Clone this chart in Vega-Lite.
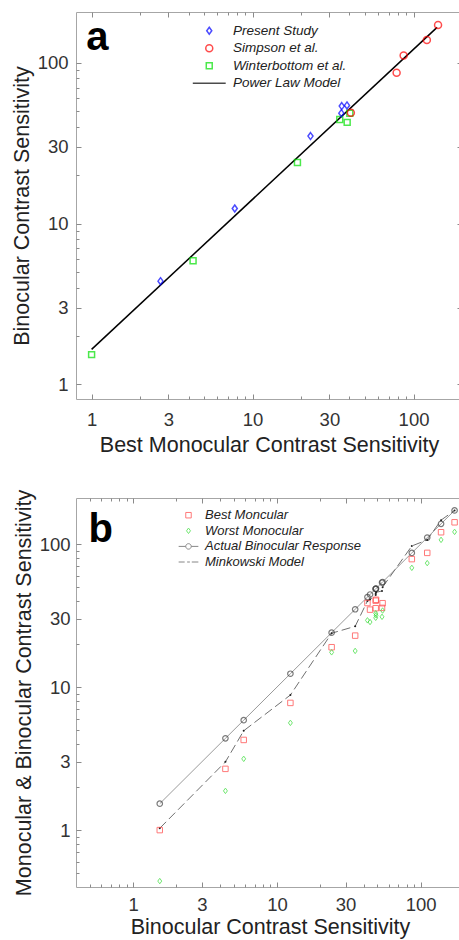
{
  "$schema": "https://vega.github.io/schema/vega-lite/v6.json",
  "padding": {"left": 10, "top": 11, "right": 0, "bottom": 0},
  "background": "white",
  "spacing": 32,
  "datasets": {
    "subjects": [
      {"id": 1, "source": "Winterbottom et al.", "best": 1.0, "bin": 1.53, "worst": 0.44, "mink": 1.03},
      {"id": 2, "source": "Present Study", "best": 2.68, "bin": 4.38, "worst": 1.88, "mink": 3.0},
      {"id": 3, "source": "Winterbottom et al.", "best": 4.27, "bin": 5.87, "worst": 3.15, "mink": 4.95},
      {"id": 4, "source": "Present Study", "best": 7.75, "bin": 12.4, "worst": 5.62, "mink": 8.8},
      {"id": 5, "source": "Winterbottom et al.", "best": 19.0, "bin": 24.0, "worst": 17.5, "mink": 23.8},
      {"id": 6, "source": "Present Study", "best": 22.9, "bin": 35.0, "worst": 17.9, "mink": 26.6},
      {"id": 7, "source": "Winterbottom et al.", "best": 38.7, "bin": 42.6, "worst": 29.3, "mink": 40},
      {"id": 8, "source": "Winterbottom et al.", "best": 34.8, "bin": 44.4, "worst": 28.5, "mink": 41},
      {"id": 9, "source": "Present Study", "best": 35.6, "bin": 48.6, "worst": 32.8, "mink": 44},
      {"id": 10, "source": "Winterbottom et al.", "best": 40.2, "bin": 48.6, "worst": 30.5, "mink": 45},
      {"id": 11, "source": "Simpson et al.", "best": 40.8, "bin": 48.9, "worst": 31.8, "mink": 46},
      {"id": 12, "source": "Present Study", "best": 35.8, "bin": 53.8, "worst": 31.0, "mink": 47},
      {"id": 13, "source": "Present Study", "best": 38.6, "bin": 54.3, "worst": 34.3, "mink": 50},
      {"id": 14, "source": "Simpson et al.", "best": 78.5, "bin": 86.7, "worst": 68.2, "mink": 97},
      {"id": 15, "source": "Simpson et al.", "best": 86.8, "bin": 111, "worst": 73.6, "mink": 107},
      {"id": 16, "source": "Simpson et al.", "best": 121, "bin": 138.5, "worst": 107, "mink": 147},
      {"id": 17, "source": "Simpson et al.", "best": 142, "bin": 172, "worst": 121.7, "mink": 172}
    ],
    "powerlaw": [
      {"model": "Power Law Model", "bx": 1, "by": 1.65},
      {"model": "Power Law Model", "bx": 140, "by": 166}
    ]
  },
  "config": {
    "view": {"stroke": "#a6a6a6", "strokeWidth": 1},
    "axis": {
      "grid": false, "domain": false, "tickColor": "#8a8a8a", "tickWidth": 1,
      "labelFont": "Liberation Sans", "labelFontSize": 18.5, "labelColor": "#333333",
      "titleFont": "Liberation Sans", "titleFontSize": 21.5, "titleFontWeight": "normal", "titleColor": "#222222",
      "labelFlush": false, "labelOverlap": false, "labelBound": false
    },
    "legend": {
      "labelFont": "Liberation Sans", "labelFontStyle": "italic", "labelColor": "#222222", "padding": 0
    }
  },
  "resolve": {"scale": {"color": "independent", "shape": "independent"}, "legend": {"color": "independent", "shape": "independent"}},
  "vconcat": [
    {
      "width": 386, "height": 387,
      "resolve": {"axis": {"x": "independent", "y": "independent"}},
      "layer": [
        {
          "data": {"name": "powerlaw"},
          "mark": {"type": "line", "color": "#000000", "strokeWidth": 1.5},
          "encoding": {
            "x": {"field": "bx", "type": "quantitative",
              "scale": {"type": "log", "domain": [0.8, 200], "nice": false},
              "axis": {"orient": "bottom", "title": "Best Monocular Contrast Sensitivity",
                "values": [1,2,3,4,5,6,7,8,9,10,20,30,40,50,60,70,80,90,100],
                "labelExpr": "indexof([1,3,10,30,100], datum.value) >= 0 ? '' + datum.value : ''",
                "tickSize": {"condition": {"test": "indexof([1,3,10,30,100], datum.value) >= 0", "value": -5}, "value": -3},
                "labelPadding": 16.5, "titlePadding": 3}},
            "y": {"field": "by", "type": "quantitative",
              "scale": {"type": "log", "domain": [0.81, 207], "nice": false},
              "axis": {"orient": "left", "title": "Binocular Contrast Sensitivity",
                "values": [1,2,3,4,5,6,7,8,9,10,20,30,40,50,60,70,80,90,100],
                "labelExpr": "indexof([1,3,10,30,100], datum.value) >= 0 ? '' + datum.value : ''",
                "tickSize": {"condition": {"test": "indexof([1,3,10,30,100], datum.value) >= 0", "value": -5}, "value": -3},
                "labelPadding": 13, "titlePadding": 4}}
          }
        },
        {
          "data": {"name": "subjects"},
          "mark": {"type": "point", "filled": false, "strokeWidth": 1.5, "size": 49},
          "encoding": {
            "x": {"field": "best", "type": "quantitative",
              "axis": {"orient": "top", "title": null, "labels": false, "minExtent": 0, "maxExtent": 0,
                "values": [1,2,3,4,5,6,7,8,9,10,20,30,40,50,60,70,80,90,100],
                "tickSize": {"condition": {"test": "indexof([1,3,10,30,100], datum.value) >= 0", "value": -5}, "value": -3}}},
            "y": {"field": "bin", "type": "quantitative",
              "axis": {"orient": "right", "title": null, "labels": false, "minExtent": 0, "maxExtent": 0,
                "values": [1,2,3,4,5,6,7,8,9,10,20,30,40,50,60,70,80,90,100,200],
                "tickSize": {"condition": {"test": "indexof([1,3,10,30,100], datum.value) >= 0", "value": -5}, "value": -3}}},
            "color": {"field": "source", "type": "nominal",
              "scale": {"domain": ["Present Study", "Simpson et al.", "Winterbottom et al.", "Power Law Model"],
                        "range": ["#0000ff", "#ff0000", "#00e000", "#000000"]},
              "legend": {"orient": "none", "legendX": 126.5, "legendY": 12, "title": null,
                "labelFontSize": 13.5, "symbolSize": 49, "symbolStrokeWidth": 1.5, "labelOffset": 17, "rowPadding": 2.5}},
            "shape": {"field": "source", "type": "nominal",
              "scale": {"domain": ["Present Study", "Simpson et al.", "Winterbottom et al.", "Power Law Model"],
                        "range": ["M0,-1L0.72,0L0,1L-0.72,0Z", "circle", "M-0.85,-0.85L0.85,-0.85L0.85,0.85L-0.85,0.85Z", "M-4.7,0L4.7,0"]}}
          }
        },
        {
          "data": {"values": [{}]},
          "mark": {"type": "text", "text": "a", "font": "Liberation Sans", "fontWeight": "bold", "fontSize": 40, "align": "left", "baseline": "alphabetic", "color": "#000000"},
          "encoding": {
            "x": {"datum": 0.927, "type": "quantitative", "axis": null},
            "y": {"datum": 120, "type": "quantitative", "axis": null}
          }
        }
      ]
    },
    {
      "width": 388, "height": 389,
      "data": {"name": "subjects"},
      "resolve": {"axis": {"x": "independent", "y": "independent"}},
      "layer": [
        {
          "mark": {"type": "line", "color": "#9a9a9a", "strokeWidth": 1},
          "encoding": {
            "x": {"field": "bin", "type": "quantitative",
              "scale": {"type": "log", "domain": [0.4, 200], "nice": false},
              "axis": {"orient": "bottom", "title": "Binocular Contrast Sensitivity",
                "values": [0.5,0.6,0.7,0.8,0.9,1,2,3,4,5,6,7,8,9,10,20,30,40,50,60,70,80,90,100],
                "labelExpr": "indexof([1,3,10,30,100], datum.value) >= 0 ? '' + datum.value : ''",
                "tickSize": {"condition": {"test": "indexof([1,3,10,30,100], datum.value) >= 0", "value": -5}, "value": -3},
                "labelPadding": 13, "titlePadding": 1}},
            "y": {"field": "bin", "type": "quantitative",
              "scale": {"type": "log", "domain": [0.4, 210], "nice": false},
              "axis": {"orient": "left", "title": "Monocular & Binocular Contrast Sensitivity",
                "values": [0.5,0.6,0.7,0.8,0.9,1,2,3,4,5,6,7,8,9,10,20,30,40,50,60,70,80,90,100],
                "labelExpr": "indexof([1,3,10,30,100], datum.value) >= 0 ? '' + datum.value : ''",
                "tickSize": {"condition": {"test": "indexof([1,3,10,30,100], datum.value) >= 0", "value": -5}, "value": -3},
                "labelPadding": 11, "titlePadding": 4}}
          }
        },
        {
          "mark": {"type": "line", "color": "#707070", "strokeWidth": 1, "strokeDash": [9, 4]},
          "encoding": {
            "x": {"field": "bin", "type": "quantitative",
              "axis": {"orient": "top", "title": null, "labels": false, "minExtent": 0, "maxExtent": 0,
                "values": [0.5,0.6,0.7,0.8,0.9,1,2,3,4,5,6,7,8,9,10,20,30,40,50,60,70,80,90,100],
                "tickSize": {"condition": {"test": "indexof([1,3,10,30,100], datum.value) >= 0", "value": -5}, "value": -3}}},
            "y": {"field": "mink", "type": "quantitative",
              "axis": {"orient": "right", "title": null, "labels": false, "minExtent": 0, "maxExtent": 0,
                "values": [0.5,0.6,0.7,0.8,0.9,1,2,3,4,5,6,7,8,9,10,20,30,40,50,60,70,80,90,100,200],
                "tickSize": {"condition": {"test": "indexof([1,3,10,30,100], datum.value) >= 0", "value": -5}, "value": -3}}}
          }
        },
        {
          "mark": {"type": "point", "shape": "circle", "filled": false, "size": 30, "strokeWidth": 1.2, "color": "#444444"},
          "encoding": {
            "x": {"field": "bin", "type": "quantitative", "axis": null},
            "y": {"field": "bin", "type": "quantitative", "axis": null}
          }
        },
        {
          "mark": {"type": "point", "shape": "circle", "filled": true, "size": 4, "color": "#222222", "opacity": 1},
          "encoding": {
            "x": {"field": "bin", "type": "quantitative", "axis": null},
            "y": {"field": "mink", "type": "quantitative", "axis": null}
          }
        },
        {
          "transform": [{"fold": ["best", "worst"], "as": ["series", "val"]}],
          "mark": {"type": "point", "filled": false, "size": 30, "strokeWidth": 1},
          "encoding": {
            "x": {"field": "bin", "type": "quantitative", "axis": null},
            "y": {"field": "val", "type": "quantitative", "axis": null},
            "color": {"field": "series", "type": "nominal",
              "scale": {"domain": ["best", "worst", "bin", "mink"], "range": ["#ff4040", "#33dd33", "#555555", "#555555"]},
              "legend": {"orient": "none", "legendX": 106, "legendY": 10.7, "title": null,
                "labelFontSize": 13, "symbolSize": 30, "symbolStrokeWidth": 1, "labelOffset": 10, "rowPadding": 1.6,
                "labelExpr": "datum.value == 'best' ? 'Best Moncular' : datum.value == 'worst' ? 'Worst Monocular' : datum.value == 'bin' ? 'Actual Binocular Response' : 'Minkowski Model'"}},
            "shape": {"field": "series", "type": "nominal",
              "scale": {"domain": ["best", "worst", "bin", "mink"],
                        "range": ["square", "M0,-1L0.72,0L0,1L-0.72,0Z", "M-3.6,0L-1,0A1,1 0 1,1 1,0A1,1 0 1,1 -1,0M1,0L3.6,0", "M-3.6,0L-1.4,0M-0.5,0L0.5,0M1.2,0L3.6,0"]}}
          }
        },
        {
          "data": {"values": [{}]},
          "mark": {"type": "text", "text": "b", "font": "Liberation Sans", "fontWeight": "bold", "fontSize": 40, "align": "left", "baseline": "alphabetic", "color": "#000000"},
          "encoding": {
            "x": {"datum": 0.489, "type": "quantitative", "axis": null},
            "y": {"datum": 103.8, "type": "quantitative", "axis": null}
          }
        }
      ]
    }
  ]
}
